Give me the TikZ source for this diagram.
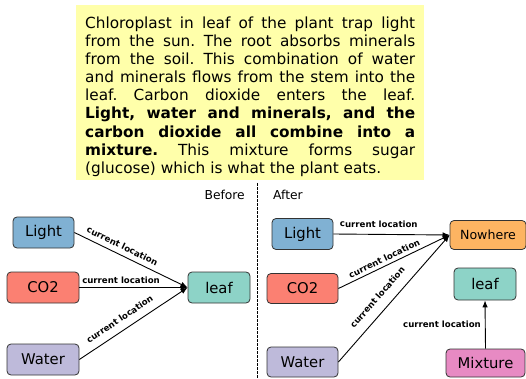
\documentclass[tikz,border=0pt]{standalone}
\usepackage{fontspec}
\setmainfont{DejaVu Sans}
\usetikzlibrary{arrows.meta}
\definecolor{boxyellow}{HTML}{FFFFAA}
\definecolor{clight}{HTML}{80B1D3}
\definecolor{cco}{HTML}{FB8072}
\definecolor{cwater}{HTML}{BEBADA}
\definecolor{cleaf}{HTML}{8DD3C7}
\definecolor{cnowhere}{HTML}{FDB462}
\definecolor{cmix}{HTML}{E78AC3}
\definecolor{edgegray}{HTML}{333333}
\tikzset{
  box/.style={draw=edgegray, line width=0.8pt, rounded corners=4pt, inner sep=0pt,
    minimum height=31pt, font=\fontsize{14.8}{16}\selectfont},
  arr/.style={draw=black, line width=0.9pt, -{Latex[length=7pt,width=5.5pt]}},
  lab/.style={font=\fontsize{8.6}{10}\selectfont\bfseries, inner sep=1.5pt, sloped},
  caption/.style={font=\fontsize{12.3}{14}\selectfont, inner sep=0pt}
}
\begin{document}
\frenchspacing
\begin{tikzpicture}[x=1pt,y=-1pt]
\useasboundingbox (0,0) rectangle (526,379);
% text panel
\fill[boxyellow] (76,5) rectangle (424,180);
\node[anchor=north west, inner sep=0pt, text width=330pt, align=justify,
      font=\fontsize{15.3}{18.1}\selectfont\frenchspacing] (para) at (85,16.6)
{Chloroplast in leaf of the plant trap light\linebreak
from the sun. The root absorbs minerals\linebreak
from the soil. This combination of water\linebreak
and minerals flows from the stem into the\linebreak
leaf. Carbon dioxide enters the leaf.\linebreak
\textbf{Light, water and minerals, and the\linebreak
carbon dioxide all combine into a\linebreak
mixture.} This mixture forms sugar\linebreak
(glucose) which is what the plant eats.};
% divider
\draw[line width=0.8pt, dash pattern=on 2.5pt off 1.5pt] (257.5,183) coordinate (dtop) -- (257.5,379) coordinate (dbot);
\node[caption, anchor=base east] (before) at (245,199) {Before};
\node[caption, anchor=base west] (after) at (273,199) {After};
% before
\node[box, fill=clight, minimum width=61pt] (l1) at (43.5,232.5) {Light};
\node[box, fill=cco, minimum width=72pt] (c1) at (43,287.5) {CO2};
\node[box, fill=cwater, minimum width=72pt] (w1) at (43,359.5) {Water};
\node[box, fill=cleaf, minimum width=62pt] (f1) at (219,287.5) {leaf};
\draw[arr] (l1.east) -- (f1.west) node[lab, pos=0.39, above=3.5pt] {current location};
\draw[arr] (c1.east) -- (f1.west) node[lab, pos=0.385, above=2.2pt] {current location};
\draw[arr] (w1.east) -- (f1.west) node[lab, pos=0.43, above=6pt] {current location};
% after
\node[box, fill=clight, minimum width=61pt] (l2) at (302.5,234) {Light};
\node[box, fill=cco, minimum width=71pt, minimum height=30pt] (c2) at (302.5,288.5) {CO2};
\node[box, fill=cwater, minimum width=71pt, minimum height=30pt] (w2) at (302.5,362) {Water};
\node[box, fill=cnowhere, minimum width=76pt, minimum height=29pt, font=\fontsize{12.6}{14}\selectfont] (n2) at (488,235) {Nowhere};
\node[box, fill=cleaf, minimum width=62pt, minimum height=32pt] (f2) at (485,284) {leaf};
\node[box, fill=cmix, minimum width=79pt, minimum height=28pt] (m2) at (485.5,363) {Mixture};
\draw[arr] (l2.east) -- (n2.west) node[lab, pos=0.39, above=5pt] {current location};
\draw[arr] (c2.east) -- (n2.west) node[lab, pos=0.44, above=1.8pt] {current location};
\draw[arr] (w2.east) -- (n2.west) node[lab, pos=0.44, above=8pt] {current location};
\draw[arr] (m2.north) -- (f2.south) node[font=\fontsize{8.6}{10}\selectfont\bfseries, midway, left, inner sep=4pt] (mlab) {current location};
\end{tikzpicture}
\end{document}
